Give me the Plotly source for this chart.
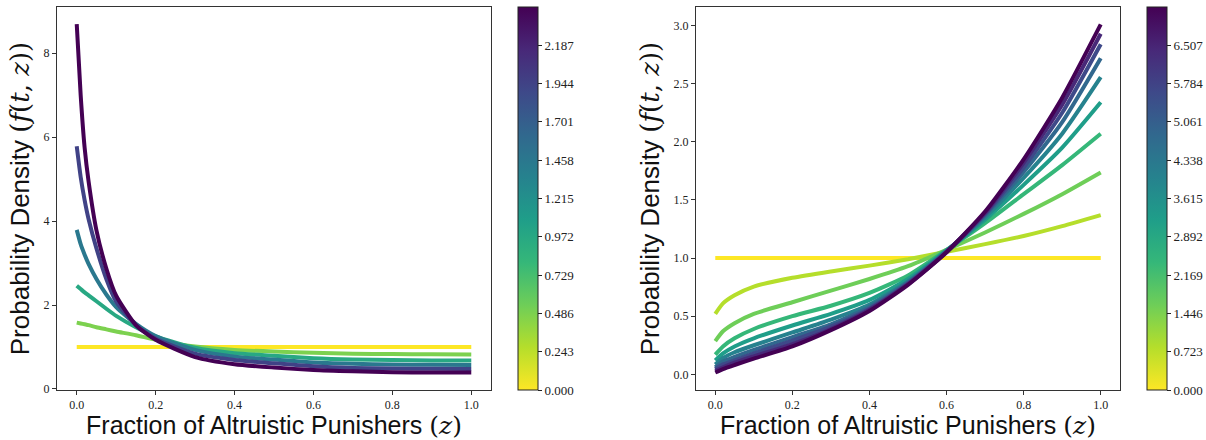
import plotly.graph_objects as go
from plotly.colors import sample_colorscale

# ---------------- data ----------------
# Left panel
z_left = [0, 0.01, 0.02, 0.03, 0.05, 0.075, 0.1, 0.15, 0.2, 0.3, 0.4, 0.5, 0.6, 0.7, 0.8, 0.9, 1.0]
t_left = [0.0, 0.486, 0.972, 1.458, 1.944, 2.43]
f_left_t0 = [1.0] * 17
f_left_t1 = [1.58, 1.56, 1.54, 1.52, 1.47, 1.42, 1.37, 1.28, 1.17, 1.01, 0.93, 0.89, 0.86, 0.84, 0.83, 0.825, 0.82]
f_left_t2 = [2.46, 2.38, 2.30, 2.23, 2.09, 1.91, 1.74, 1.47, 1.25, 0.98, 0.85, 0.79, 0.73, 0.70, 0.69, 0.68, 0.68]
f_left_t3 = [3.79, 3.45, 3.20, 2.98, 2.62, 2.25, 1.95, 1.55, 1.26, 0.93, 0.77, 0.70, 0.63, 0.60, 0.58, 0.575, 0.57]
f_left_t4 = [5.78, 5.05, 4.50, 4.05, 3.35, 2.62, 2.08, 1.52, 1.20, 0.84, 0.69, 0.61, 0.54, 0.50, 0.485, 0.48, 0.476]
f_left_t5 = [8.69, 7.00, 5.75, 4.95, 3.78, 2.87, 2.22, 1.52, 1.17, 0.76, 0.59, 0.51, 0.45, 0.42, 0.40, 0.39, 0.39]
f_left = [f_left_t0, f_left_t1, f_left_t2, f_left_t3, f_left_t4, f_left_t5]
cbar_left_ticks = [0.0, 0.243, 0.486, 0.729, 0.972, 1.215, 1.458, 1.701, 1.944, 2.187]
t_left_max = 2.43

# Right panel
z_right = [0, 0.02, 0.05, 0.1, 0.2, 0.3, 0.4, 0.5, 0.6, 0.7, 0.8, 0.9, 1.0]
t_right = [0.0, 0.803, 1.607, 2.41, 3.213, 4.017, 4.82, 5.623, 6.427, 7.23]
f_right_t0 = [1.0] * 13
f_right_t1 = [0.52, 0.61, 0.68, 0.755, 0.83, 0.885, 0.935, 0.99, 1.055, 1.12, 1.19, 1.275, 1.37]
f_right_t2 = [0.286, 0.37, 0.44, 0.52, 0.62, 0.72, 0.82, 0.93, 1.07, 1.22, 1.38, 1.55, 1.737]
f_right_t3 = [0.17, 0.24, 0.31, 0.39, 0.50, 0.59, 0.70, 0.85, 1.07, 1.30, 1.55, 1.80, 2.07]
f_right_t4 = [0.12, 0.18, 0.24, 0.31, 0.42, 0.52, 0.64, 0.82, 1.065, 1.33, 1.63, 1.95, 2.34]
f_right_t5 = [0.085, 0.14, 0.19, 0.25, 0.36, 0.47, 0.60, 0.80, 1.06, 1.35, 1.69, 2.07, 2.556]
f_right_t6 = [0.06, 0.11, 0.15, 0.21, 0.32, 0.43, 0.58, 0.79, 1.06, 1.37, 1.74, 2.17, 2.72]
f_right_t7 = [0.045, 0.085, 0.12, 0.18, 0.29, 0.41, 0.565, 0.78, 1.055, 1.38, 1.78, 2.25, 2.84]
f_right_t8 = [0.03, 0.06, 0.10, 0.155, 0.26, 0.39, 0.555, 0.775, 1.05, 1.39, 1.82, 2.32, 2.93]
f_right_t9 = [0.015, 0.045, 0.08, 0.135, 0.24, 0.38, 0.545, 0.77, 1.05, 1.40, 1.85, 2.38, 3.01]
f_right = [f_right_t0, f_right_t1, f_right_t2, f_right_t3, f_right_t4,
           f_right_t5, f_right_t6, f_right_t7, f_right_t8, f_right_t9]
cbar_right_ticks = [0.0, 0.723, 1.446, 2.169, 2.892, 3.615, 4.338, 5.061, 5.784, 6.507]
t_right_max = 7.23

x_ticks = [0.0, 0.2, 0.4, 0.6, 0.8, 1.0]
y_left_ticks = [0, 2, 4, 6, 8]
y_right_ticks = [0.0, 0.5, 1.0, 1.5, 2.0, 2.5, 3.0]

x_title = 'Fraction of Altruistic Punishers <span style="font-family:\'DejaVu Serif\'">(<i>z</i>)</span>'
y_title = 'Probability Density <span style="font-family:\'DejaVu Serif\'">(<i>f</i>(<i>t</i>, <i>z</i>))</span>'

# ---------------- figure ----------------
W, H = 1206, 440
fig = go.Figure()
SERIF = "Liberation Serif"
SANS = "Liberation Sans"

def add_panel(zs, fs, ts, tmax, xa, ya):
    for f, t in zip(fs, ts):
        col = sample_colorscale("Viridis", [1 - t / tmax])[0]
        fig.add_trace(go.Scatter(x=zs, y=f, mode="lines", xaxis=xa, yaxis=ya,
                                 line=dict(color=col, width=4, shape="spline", smoothing=0.6),
                                 showlegend=False, hoverinfo="skip"))

add_panel(z_left, f_left, t_left, t_left_max, "x", "y")
add_panel(z_right, f_right, t_right, t_right_max, "x2", "y2")

def add_cbar(tmax, ticks, xpos, xa, ya):
    fig.add_trace(go.Scatter(
        x=[None], y=[None], mode="markers", xaxis=xa, yaxis=ya, showlegend=False,
        marker=dict(color=[0], cmin=0, cmax=tmax, colorscale="Viridis", reversescale=True,
                    showscale=True,
                    colorbar=dict(x=xpos, xanchor="left", xpad=0, ypad=0, y=0.5, yanchor="middle",
                                  len=1.0, lenmode="fraction", thickness=20, thicknessmode="pixels",
                                  outlinewidth=1, outlinecolor="#222",
                                  tickmode="array", tickvals=ticks,
                                  ticktext=[f"{v:.3f}" for v in ticks],
                                  ticks="outside", ticklen=4, tickcolor="#222",
                                  tickfont=dict(family=SERIF, size=13, color="#222"))),
    ))

add_cbar(t_left_max, cbar_left_ticks, 517.5 / W, "x", "y")
add_cbar(t_right_max, cbar_right_ticks, 1146.5 / W, "x2", "y2")

axis_common = dict(showgrid=False, zeroline=False, showline=True, linecolor="#333", linewidth=1,
                   mirror=True, ticks="outside", ticklen=4, tickcolor="#333",
                   tickfont=dict(family=SERIF, size=12, color="#222"))

x_title_font = dict(family=SANS, size=25, color="#111")
y_title_font = dict(family=SANS, size=26, color="#111")

fig.update_layout(
    width=W, height=H,
    margin=dict(l=0, r=0, t=7, b=50),
    plot_bgcolor="white", paper_bgcolor="white",
    xaxis=dict(domain=[57 / W, 491 / W], range=[-0.05, 1.05], tickvals=x_ticks,
               ticktext=[f"{v:.1f}" for v in x_ticks],
               title=dict(text=x_title, font=x_title_font, standoff=4),
               **axis_common),
    yaxis=dict(domain=[0, 1], range=[-0.025, 9.1], tickvals=y_left_ticks,
               title=dict(text=y_title, font=y_title_font, standoff=6),
               **axis_common),
    xaxis2=dict(domain=[696 / W, 1120 / W], range=[-0.05, 1.05], tickvals=x_ticks,
                ticktext=[f"{v:.1f}" for v in x_ticks], anchor="y2",
                title=dict(text=x_title, font=x_title_font, standoff=4),
                **axis_common),
    yaxis2=dict(domain=[0, 1], range=[-0.135, 3.16], tickvals=y_right_ticks, anchor="x2",
                ticktext=[f"{v:.1f}" for v in y_right_ticks],
                title=dict(text=y_title, font=y_title_font, standoff=6),
                **axis_common),
)

fig.write_html("out.html", config={"displayModeBar": False},
               post_script="document.body.style.margin='0';document.body.style.overflow='hidden';")
